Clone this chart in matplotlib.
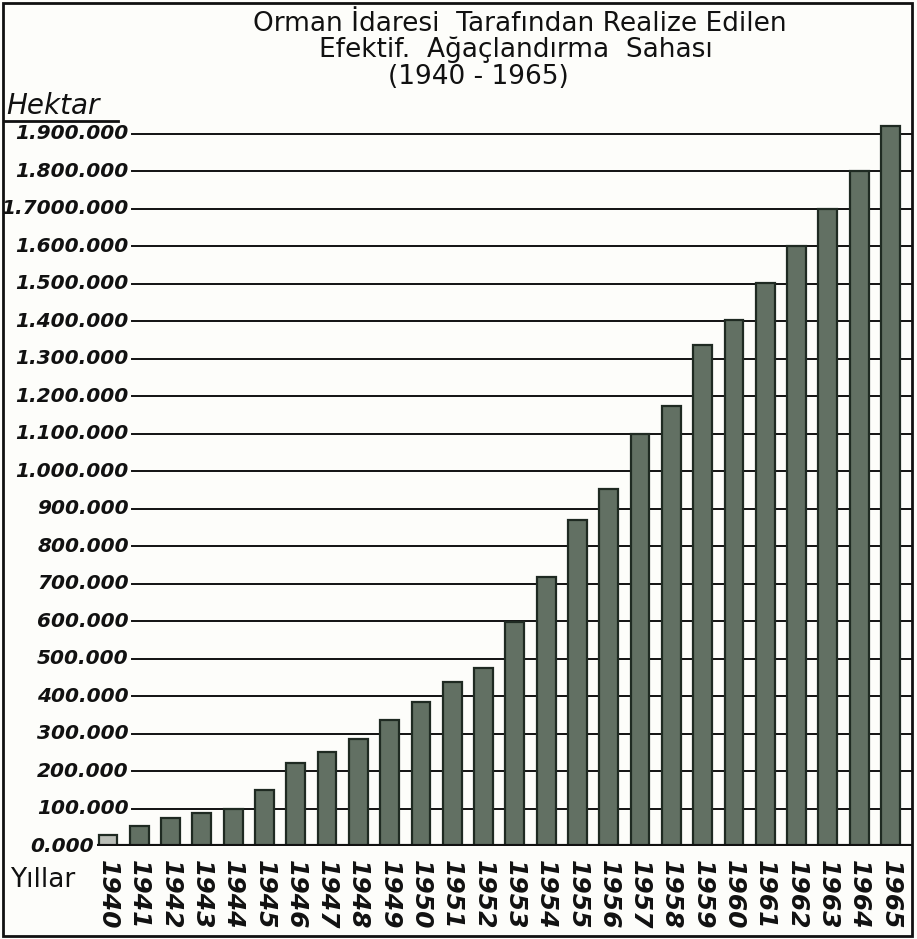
import numpy as np
import matplotlib
matplotlib.use('Agg')
import matplotlib.pyplot as plt
from matplotlib.patches import Rectangle
from matplotlib.lines import Line2D
import matplotlib.transforms as mtransforms

# data
years = list(range(1940, 1966))
hektar = [30000, 53000, 75000, 88000, 99000, 149000, 221000, 251000, 285000,
          336000, 384000, 437000, 475000, 597000, 717000, 869000, 951000,
          1100000, 1173000, 1336000, 1403000, 1501000, 1600000, 1698000,
          1800000, 1920000]
ytick_vals = [i * 100000 for i in range(20)]
ytick_labels = ['0.000', '100.000', '200.000', '300.000', '400.000', '500.000',
                '600.000', '700.000', '800.000', '900.000', '1.000.000',
                '1.100.000', '1.200.000', '1.300.000', '1.400.000', '1.500.000',
                '1.600.000', '1.7000.000', '1.800.000', '1.900.000']
title_lines = ['Orman İdaresi  Tarafından Realize Edilen',
               'Efektif.  Ağaçlandırma  Sahası',
               '(1940 - 1965)']

W, H = 917, 939
fig = plt.figure(figsize=(W / 100, H / 100), dpi=100)
fig.patch.set_facecolor('#fdfdfa')

# axes: left 97px, right 912px, zero at 846px, top at 115px
ax = fig.add_axes([97 / W, (H - 846) / H, (912 - 97) / W, (846 - 115) / H])
ax.set_facecolor('none')
for s in ax.spines.values():
    s.set_visible(False)

x = np.arange(len(years))
cols = ['#b9bdb6'] + ['#627063'] * (len(years) - 1)
ax.bar(x, hektar, width=0.6, color=cols, edgecolor='#1f2a22', linewidth=1.6, zorder=3)

ax.set_xlim(-0.35, -0.35 + 815 / 31.3)
ax.set_ylim(0, 1950000)

# horizontal rules
for v in ytick_vals[1:]:
    ax.axhline(v, xmin=0.043, xmax=1, color='#111111', lw=1.4, zorder=1)
ax.axhline(0, xmin=0, xmax=1, color='#111111', lw=3, zorder=4)

# y labels
trans = mtransforms.blended_transform_factory(ax.transAxes, ax.transData)
for v, lab in zip(ytick_vals, ytick_labels):
    xr = -0.004 if v == 0 else 0.039
    ax.text(xr, v, lab, transform=trans, ha='right', va='center',
            fontsize=14.5, fontstyle='italic', fontweight='bold', color='#111111')

ax.set_yticks([])
ax.set_xticks(x)
ax.set_xticklabels([str(y) for y in years], rotation=-90, fontsize=18,
                   fontstyle='italic', fontweight='semibold', color='#111111')
ax.tick_params(axis='x', length=0, pad=10)

# title
ty = [24, 50, 77]
tx = [520, 516, 478]
for t, xx, yy in zip(title_lines, tx, ty):
    fig.text(xx / W, 1 - yy / H, t, ha='center', va='center', fontsize=19,
             color='#111111')

fig.text(6 / W, 1 - 106 / H, 'Hektar', ha='left', va='center', fontsize=20,
         fontstyle='italic', color='#111111')
fig.add_artist(Line2D([5 / W, 118 / W], [1 - 121 / H, 1 - 121 / H],
                      color='#111111', lw=2, transform=fig.transFigure))
fig.text(10 / W, 1 - 880 / H, 'Yıllar', ha='left', va='center', fontsize=19,
         color='#111111')

# frame
fig.add_artist(Rectangle((3 / W, 3 / H), 909 / W, 933 / H, fill=False,
                         edgecolor='#111111', lw=2, transform=fig.transFigure))

fig.savefig('out.png', dpi=100, facecolor=fig.get_facecolor())
